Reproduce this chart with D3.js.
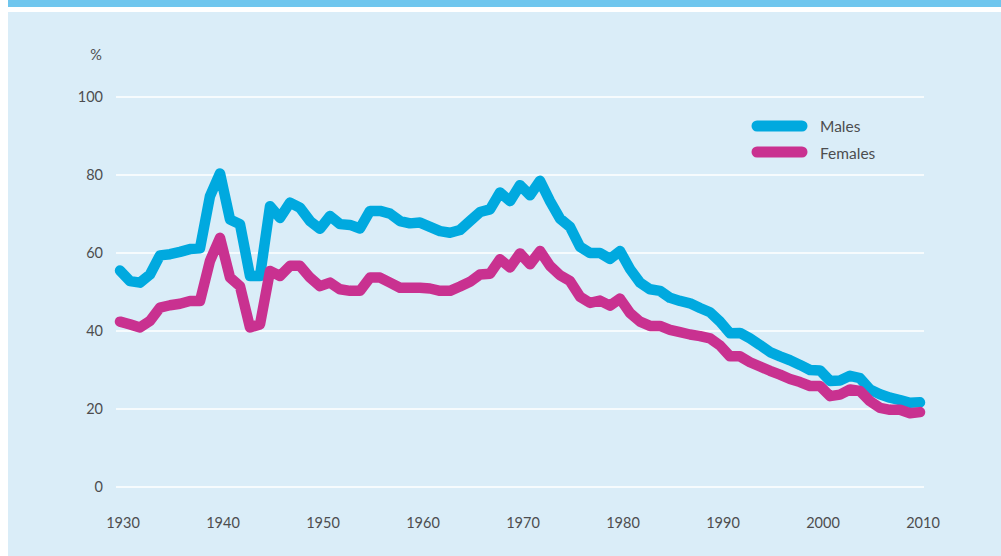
<!DOCTYPE html>
<html>
<head>
<meta charset="utf-8">
<script src="https://cdn.jsdelivr.net/npm/d3@7"></script>
<style>
  html, body { margin: 0; padding: 0; background: #fff; }
  svg { display: block; font-family: Lato, "Open Sans", sans-serif; }
</style>
</head>
<body>
<div id="chart"></div>
<script>
// years 1930..2010
const years = d3.range(1930, 2011);

const males = [
  55.5, 52.8, 52.4, 54.5, 59.4, 59.7, 60.3, 61.0, 61.2, 74.6,
  80.4, 68.6, 67.4, 54.1, 54.1, 72.0, 69.0, 72.9, 71.6, 68.2,
  66.2, 69.5, 67.4, 67.2, 66.3, 70.8, 70.8, 70.1, 68.2, 67.6,
  67.8, 66.7, 65.6, 65.2, 65.9, 68.2, 70.5, 71.2, 75.5, 73.3,
  77.4, 74.8, 78.5, 73.3, 68.8, 66.7, 61.6, 60.0, 60.0, 58.5,
  60.5, 55.9, 52.4, 50.7, 50.3, 48.5, 47.7, 47.1, 45.9, 44.8,
  42.4, 39.4, 39.5, 38.1, 36.4, 34.6, 33.5, 32.5, 31.3, 30.0,
  29.9, 27.2, 27.3, 28.5, 27.9, 25.0, 23.8, 22.9, 22.3, 21.6,
  21.7
];

const females = [
  42.4, 41.7, 40.9, 42.6, 46.0, 46.6, 47.0, 47.7, 47.7, 58.0,
  63.9, 53.7, 51.5, 40.9, 41.7, 55.4, 54.1, 56.7, 56.7, 53.7,
  51.5, 52.4, 50.7, 50.3, 50.3, 53.7, 53.7, 52.4, 51.1, 51.1,
  51.1, 50.9, 50.3, 50.3, 51.4, 52.6, 54.5, 54.7, 58.4, 56.3,
  59.9, 57.1, 60.5, 56.7, 54.3, 52.8, 48.8, 47.2, 47.8, 46.5,
  48.3, 44.6, 42.4, 41.3, 41.3, 40.3, 39.7, 39.1, 38.7, 38.1,
  36.3, 33.5, 33.5, 32.0, 30.9, 29.8, 28.8, 27.7, 26.9, 25.9,
  25.9, 23.3, 23.7, 25.0, 24.6, 22.0, 20.3, 19.8, 19.8, 18.9,
  19.2
];

const yTicks = [0, 20, 40, 60, 80, 100];
const xTicks = [1930, 1940, 1950, 1960, 1970, 1980, 1990, 2000, 2010];

const seriesNames = ["Males", "Females"];
const seriesColors = ["#00a9df", "#c93190"];

const width = 1001, height = 556;

const svg = d3.select("#chart").append("svg")
  .attr("width", width)
  .attr("height", height);

// frame: top band + panel
svg.append("rect").attr("x", 8).attr("y", 0).attr("width", width - 8).attr("height", 7).attr("fill", "#6fc6ee");
svg.append("rect").attr("x", 8).attr("y", 12).attr("width", width - 8).attr("height", height - 12).attr("fill", "#daedf8");

const x = d3.scaleLinear().domain([1930, 2010]).range([120, 920]);
const y = d3.scaleLinear().domain([0, 100]).range([487, 97]);

// gridlines
svg.append("g").selectAll("line")
  .data(yTicks)
  .join("line")
  .attr("x1", 116).attr("x2", 924)
  .attr("y1", d => y(d)).attr("y2", d => y(d))
  .attr("stroke", "#fff").attr("stroke-width", 1.5);

// y labels
svg.append("g").selectAll("text")
  .data(yTicks)
  .join("text")
  .attr("x", 103)
  .attr("y", d => y(d))
  .attr("dy", "0.35em")
  .attr("text-anchor", "end")
  .attr("font-size", 14.5)
  .attr("fill", "#4d4d4f")
  .text(d => d);

svg.append("text")
  .attr("x", 96).attr("y", 55).attr("dy", "0.35em")
  .attr("text-anchor", "middle")
  .attr("font-size", 14.5).attr("fill", "#4d4d4f")
  .text("%");

// x labels
svg.append("g").selectAll("text")
  .data(xTicks)
  .join("text")
  .attr("x", d => x(d) + 3)
  .attr("y", 523)
  .attr("dy", "0.35em")
  .attr("text-anchor", "middle")
  .attr("font-size", 14.5)
  .attr("fill", "#4d4d4f")
  .text(d => d);

const line = d3.line()
  .x((d, i) => x(years[i]))
  .y(d => y(d));

// draw males then females
[males, females].forEach((data, i) => {
  svg.append("path")
    .datum(data)
    .attr("d", line)
    .attr("fill", "none")
    .attr("stroke", seriesColors[i])
    .attr("stroke-width", 10.5)
    .attr("stroke-linejoin", "round")
    .attr("stroke-linecap", "round");
});

// legend
const legend = svg.append("g").attr("transform", "translate(757,126)");
seriesNames.forEach((name, i) => {
  legend.append("line")
    .attr("x1", 0).attr("x2", 45)
    .attr("y1", i * 26).attr("y2", i * 26)
    .attr("stroke", seriesColors[i])
    .attr("stroke-width", 11)
    .attr("stroke-linecap", "round");
  legend.append("text")
    .attr("x", 63).attr("y", i * 27 + 1)
    .attr("dy", "0.35em")
    .attr("font-size", 15.5)
    .attr("fill", "#4d4d4f")
    .text(name);
});
</script>
</body>
</html>
